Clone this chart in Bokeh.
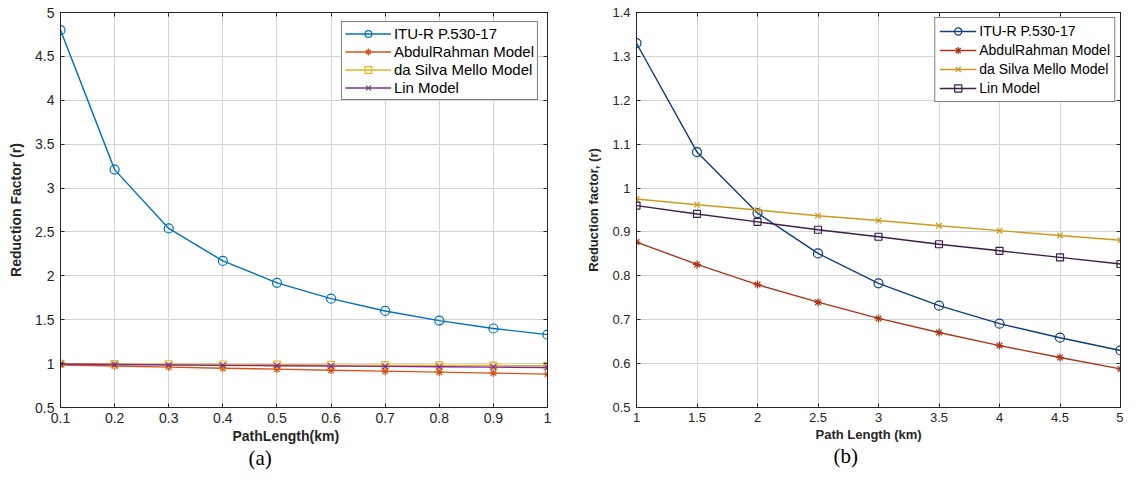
from bokeh.plotting import figure
from bokeh.layouts import row
from bokeh.models import Title, FixedTicker, LinearAxis
from bokeh.embed import file_html
from bokeh.resources import INLINE

# ---------------- data (a) ----------------
x_a = [0.1, 0.2, 0.3, 0.4, 0.5, 0.6, 0.7, 0.8, 0.9, 1.0]
itu_a = [4.80, 3.21, 2.54, 2.17, 1.92, 1.74, 1.60, 1.49, 1.40, 1.33]
abdul_a = [0.985, 0.972, 0.960, 0.948, 0.937, 0.925, 0.914, 0.903, 0.892, 0.880]
silva_a = [0.998, 0.995, 0.993, 0.990, 0.988, 0.985, 0.983, 0.980, 0.978, 0.975]
lin_a = [0.995, 0.990, 0.985, 0.980, 0.976, 0.972, 0.968, 0.964, 0.960, 0.956]

# ---------------- data (b) ----------------
x_b = [1, 1.5, 2, 2.5, 3, 3.5, 4, 4.5, 5]
itu_b = [1.33, 1.082, 0.943, 0.851, 0.783, 0.732, 0.691, 0.659, 0.630]
abdul_b = [0.877, 0.826, 0.780, 0.740, 0.703, 0.671, 0.641, 0.614, 0.588]
silva_b = [0.975, 0.962, 0.950, 0.937, 0.926, 0.914, 0.903, 0.892, 0.881]
lin_b = [0.960, 0.941, 0.923, 0.905, 0.889, 0.872, 0.857, 0.842, 0.827]

names = ["ITU-R P.530-17", "AbdulRahman Model", "da Silva Mello Model", "Lin Model"]

xt_a = [0.1, 0.2, 0.3, 0.4, 0.5, 0.6, 0.7, 0.8, 0.9, 1.0]
yt_a = [0.5, 1, 1.5, 2, 2.5, 3, 3.5, 4, 4.5, 5]
xt_b = [1, 1.5, 2, 2.5, 3, 3.5, 4, 4.5, 5]
yt_b = [0.5, 0.6, 0.7, 0.8, 0.9, 1.0, 1.1, 1.2, 1.3, 1.4]

FONT = "Liberation Sans"
TXT = "#262626"


def make_fig(width, xr, yr, xt, yt, xlabel, ylabel, caption, min_left, min_right,
             tick_size, lab_size, xlab_off, cap_off):
    p = figure(width=width, height=469, x_range=xr, y_range=yr,
               output_backend="svg", toolbar_location=None,
               min_border_left=min_left, min_border_right=min_right,
               min_border_top=12, min_border_bottom=10)
    p.outline_line_color = TXT
    p.outline_line_width = 1
    p.outline_line_alpha = 1
    for ax, ticks in ((p.xaxis[0], xt), (p.yaxis[0], yt)):
        ax.ticker = FixedTicker(ticks=ticks)
        ax.major_label_overrides = {t: f"{t:g}" for t in ticks}
        ax.minor_tick_line_color = None
        ax.major_tick_in = 4
        ax.major_tick_out = 0
        ax.axis_line_color = TXT
        ax.major_tick_line_color = TXT
        ax.major_label_text_font = FONT
        ax.major_label_text_font_size = tick_size
        ax.major_label_text_color = TXT
        ax.axis_label_text_font = FONT
        ax.axis_label_text_font_size = lab_size
        ax.axis_label_text_font_style = "bold"
        ax.axis_label_text_color = TXT
    # mirrored inside ticks on top and right (no labels)
    for side, ticks in (("above", xt), ("right", yt)):
        ax2 = LinearAxis(ticker=FixedTicker(ticks=ticks),
                         major_label_text_font_size="0px",
                         major_label_standoff=0,
                         major_tick_in=4, major_tick_out=0,
                         minor_tick_line_color=None,
                         axis_line_color=TXT, major_tick_line_color=TXT)
        ax2.major_label_overrides = {t: "" for t in ticks}
        p.add_layout(ax2, side)
    p.yaxis[0].axis_label = ylabel
    p.xaxis[0].major_label_standoff = 4
    p.yaxis[0].major_label_standoff = 6
    p.yaxis[0].axis_label_standoff = 8
    p.grid.grid_line_color = "#d4d4d4"
    p.grid.grid_line_width = 1
    p.background_fill_color = "white"
    xl = Title(text=xlabel, align="left", offset=xlab_off, text_font=FONT,
               text_font_size=lab_size, text_font_style="bold", text_color=TXT,
               standoff=0)
    p.add_layout(xl, "below")
    t = Title(text=caption, align="left", offset=cap_off, text_font="Liberation Serif",
              text_font_size="21px", text_font_style="normal", text_color="black",
              standoff=0)
    p.add_layout(t, "below")
    return p


# ---------------- figure (a) ----------------
pa = make_fig(551, (0.1, 1.0), (0.5, 5.0), xt_a, yt_a, "PathLength(km)",
              "Reduction Factor (r)", "(a)", 60, 4, "14px", "14px", 172, 188)
cols_a = ["#0072BD", "#D95319", "#EDB120", "#7E2F8E"]
marks_a = ["circle", "asterisk", "square", "x"]
sizes_a = [9, 8, 7, 8]
for ys, c, m, s, n in zip([itu_a, abdul_a, silva_a, lin_a], cols_a, marks_a, sizes_a, names):
    pa.line(x_a, ys, line_color=c, line_width=1.4, legend_label=n)
    pa.scatter(x_a, ys, marker=m, size=s, line_color=c, fill_color=None,
               line_width=1.2, legend_label=n)

# ---------------- figure (b) ----------------
pb = make_fig(572, (1, 5), (0.5, 1.4), xt_b, yt_b, "Path Length (km)",
              "Reduction factor, (r)", "(b)", 85, 3, "13px", "13px", 179, 197)
cols_b = ["#0F3C82", "#A8341A", "#CC9A1E", "#3C1F4A"]
marks_b = ["circle", "asterisk", "x", "square"]
sizes_b = [9, 8, 8, 7]
for ys, c, m, s, n in zip([itu_b, abdul_b, silva_b, lin_b], cols_b, marks_b, sizes_b, names):
    pb.line(x_b, ys, line_color=c, line_width=1.4, legend_label=n)
    pb.scatter(x_b, ys, marker=m, size=s, line_color=c, fill_color=None,
               line_width=1.2, legend_label=n)

legend_cfg = [
    (pa, 9, 3, 1, 17, 46, "15px"),
    (pb, 5, 4, 1, 18, 37, "14px"),
]
for p, mg, pad, sp, lh, gw, fs in legend_cfg:
    lg = p.legend[0]
    lg.location = "top_right"
    lg.margin = mg
    lg.padding = pad
    lg.spacing = sp
    lg.label_height = lh
    lg.glyph_height = lh
    lg.glyph_width = gw
    lg.label_standoff = 3
    lg.label_text_font = FONT
    lg.label_text_font_size = fs
    lg.label_text_color = "black"
    lg.border_line_color = "black"
    lg.border_line_width = 1
    lg.background_fill_alpha = 1

layout = row(pa, pb, spacing=0)
open("out.html", "w").write(file_html(layout, INLINE))
